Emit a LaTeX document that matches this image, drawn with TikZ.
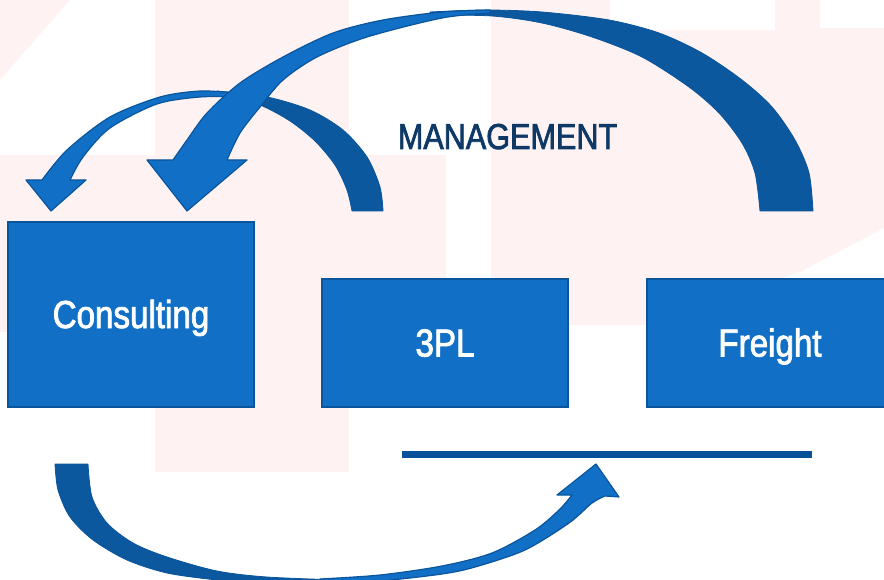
\documentclass[tikz,border=0pt]{standalone}
\usepackage{fontspec}
\setmainfont{Liberation Sans}[FakeStretch=0.85, FakeBold=2]
\usetikzlibrary{positioning}
\definecolor{boxblue}{HTML}{1170C6}
\definecolor{boxedge}{HTML}{0A559C}
\definecolor{backblue}{HTML}{0C589F}
\definecolor{lineblue}{HTML}{08509A}
\definecolor{mgmtblue}{HTML}{0E3967}
\definecolor{pinkwash}{HTML}{FFF2F2}

\begin{document}
\begin{tikzpicture}[x=1pt, y=-1pt,
    box/.style={draw=boxedge, line width=2.5pt, fill=boxblue, text=white, inner sep=0pt,
      minimum width=246pt, font=\fontsize{39}{39}\selectfont, text height=27pt, text depth=0pt},
    front/.style={fill=boxblue, draw=boxedge, line width=1.2pt, line join=round},
    back/.style={fill=backblue, draw=boxedge, line width=0.8pt, line join=round}]
            \useasboundingbox (0,0) rectangle (884,580);
            \clip (0,0) rectangle (884,580);

            % faint shapes behind
            \fill[pinkwash] (0,0) -- (70,0) -- (0,80) -- cycle;
            \fill[pinkwash] (155,0) rectangle (349,472);
            \fill[pinkwash] (0,155) rectangle (446,332);
            \fill[pinkwash] (491,0) -- (610,0) -- (610,30) -- (775,30) -- (775,0) -- (820,0) -- (820,28)
              -- (884,28) -- (884,228) -- (800,272) -- (645,325) -- (491,325) -- cycle;

            \node[box, minimum height=184.5pt] (consult) at (131,314.5) {Consulting};
            \node[box, minimum height=127.5pt, right=65.5pt of consult.south east, anchor=south west] (tpl) {3PL};
            \node[box, minimum height=127.5pt, right=76.5pt of tpl.south east, anchor=south west] (freight) {Freight};

            \node[text=mgmtblue, font=\fontsize{36}{36}\selectfont, inner sep=0pt,
              text height=26pt, text depth=0pt] (mgmt) at (507.5,136) {MANAGEMENT};

            \coordinate (railL) at (402,454.5);
            \coordinate (railR) at (812,454.5);
            \draw[lineblue, line width=7pt] (railL) -- (railR);

            % 3PL back to Consulting
            \filldraw[back] plot[smooth] coordinates {(383,211) (380,187) (367,157) (343,130) (310,110) (267,97) (217,91)}
              -- plot[smooth] coordinates {(225,95) (260,105) (290,121) (315,141) (335,165) (347,190) (352,211)} -- cycle;
            \filldraw[front] plot[smooth] coordinates {(235,93) (200,91) (160,97) (110,117) (67,150) (42,180)}
              -- (26,180) -- (51,211) -- (86,180)
              -- plot[smooth] coordinates {(70,180) (83,157) (110,128) (157,104) (200,97) (235,97)} -- cycle;

            % Freight back to Consulting
            \filldraw[back] plot[smooth] coordinates {(813,211) (809,173) (795,140) (772,107) (742,80) (702,53) (659,33) (609,20) (542,12) (485,10) (430,12)}
              -- plot[smooth] coordinates {(430,15) (492,16) (542,23) (592,37) (642,57) (689,87) (719,113) (742,143) (755,173) (760,211)} -- cycle;
            \filldraw[front] plot[smooth] coordinates {(490,10) (442,12) (383,20) (333,33) (283,57) (240,83) (207,113) (187,140) (173,160)}
              -- (147,160) -- (187,211) -- (247,160)
              -- plot[smooth] coordinates {(227,160) (240,133) (260,107) (283,80) (317,57) (367,37) (442,18) (490,13)} -- cycle;

            % Consulting round to the line
            \filldraw[back] plot[smooth] coordinates {(55,464) (58,490) (70,517) (93,540) (127,560) (167,573) (217,580) (267,584) (340,586)}
              -- plot[smooth] coordinates {(340,580) (267,577) (217,571) (167,557) (133,543) (107,523) (92,497) (88,464)} -- cycle;
            \filldraw[front] plot[smooth] coordinates {(320,584) (380,581) (442,574) (475,567) (525,550) (569,523) (592,503) (605,496)}
              -- (619,497) -- (596,464) -- (557,495)
              -- plot[smooth] coordinates {(572,495) (559,510) (535,530) (492,553) (442,566) (380,575) (320,579)} -- cycle;
        \end{tikzpicture}
\end{document}
